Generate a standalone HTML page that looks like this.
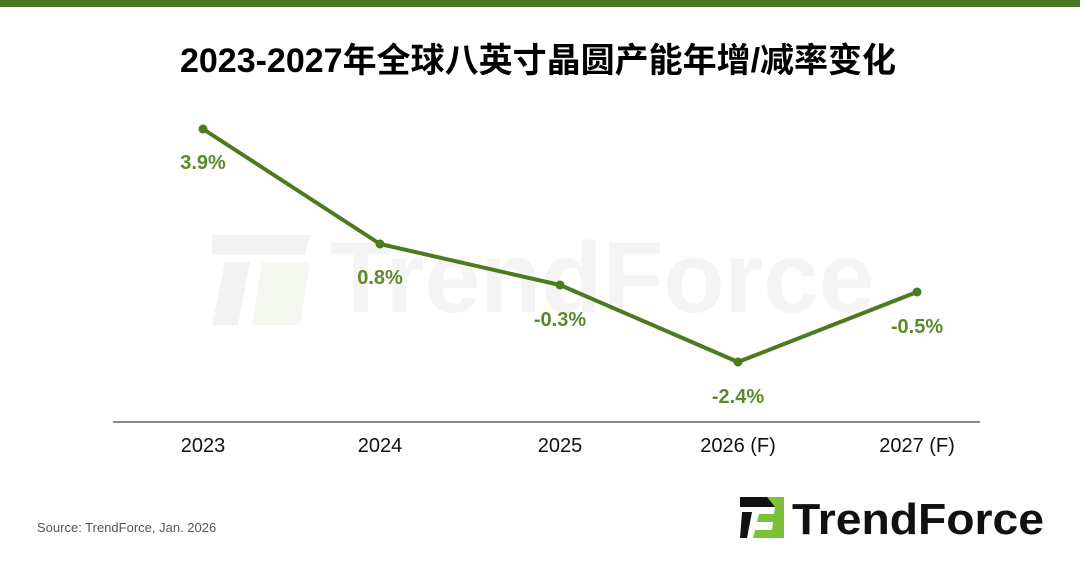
<!DOCTYPE html>
<html><head><meta charset="utf-8"><style>
html,body{margin:0;padding:0;background:#fff;}
body{width:1080px;height:560px;position:relative;overflow:hidden;}
</style></head><body>
<svg width="1080" height="560" viewBox="0 0 1080 560" xmlns="http://www.w3.org/2000/svg">
<rect x="0" y="0" width="1080" height="7" fill="#4a7a22"/>
<text x="538" y="72" text-anchor="middle" font-family="'Liberation Sans','Noto Sans CJK SC',sans-serif" font-weight="bold" font-size="34" fill="#000">2023-2027年全球八英寸晶圆产能年增/减率变化</text>
<g opacity="0.9">
<path d="M212 235 L310 235 L305 255 L212 255 Z M225 262 L250 262 L238 325 L212 325 Z" fill="#f1f1f1"/>
<path d="M262 262 L310 262 L300 325 L252 325 Z" fill="#f5f8ef"/>
<text x="330" y="312" font-family="'Liberation Sans',sans-serif" font-weight="bold" font-size="100" fill="#f3f3f3">TrendForce</text>
</g>
<line x1="113" y1="422" x2="980" y2="422" stroke="#888" stroke-width="2"/>
<polyline points="203,129 380,244 560,285 738,362 917,292" fill="none" stroke="#4c7a1e" stroke-width="4" stroke-linejoin="round"/>
<g fill="#4c7a1e">
<circle cx="203" cy="129" r="4.5"/><circle cx="380" cy="244" r="4.5"/><circle cx="560" cy="285" r="4.5"/><circle cx="738" cy="362" r="4.5"/><circle cx="917" cy="292" r="4.5"/>
</g>
<g font-family="'Liberation Sans',sans-serif" font-weight="bold" font-size="20" fill="#5a8a2a" text-anchor="middle">
<text x="203" y="169">3.9%</text>
<text x="380" y="284">0.8%</text>
<text x="560" y="326">-0.3%</text>
<text x="738" y="403">-2.4%</text>
<text x="917" y="333">-0.5%</text>
</g>
<g font-family="'Liberation Sans',sans-serif" font-size="20" fill="#111" text-anchor="middle">
<text x="203" y="452">2023</text>
<text x="380" y="452">2024</text>
<text x="560" y="452">2025</text>
<text x="738" y="452">2026 (F)</text>
<text x="917" y="452">2027 (F)</text>
</g>
<text x="37" y="532" font-family="'Liberation Sans',sans-serif" font-size="13" fill="#555">Source: TrendForce, Jan. 2026</text>
<path d="M740 497 L778 497 L776 507 L740 507 Z M742 512 L752 512 L747 538 L740 538 Z" fill="#111"/>
<path d="M767 497 L784 497 L784 538 L753 538 L755 530 L772 530 L773 522 L757 522 L759 514 L774 514 L775 507 Z" fill="#7cc13a"/>
<text x="792" y="534" font-family="'Liberation Sans',sans-serif" font-weight="bold" font-size="44" fill="#111" textLength="252" lengthAdjust="spacingAndGlyphs">TrendForce</text>
</svg>
</body></html>
